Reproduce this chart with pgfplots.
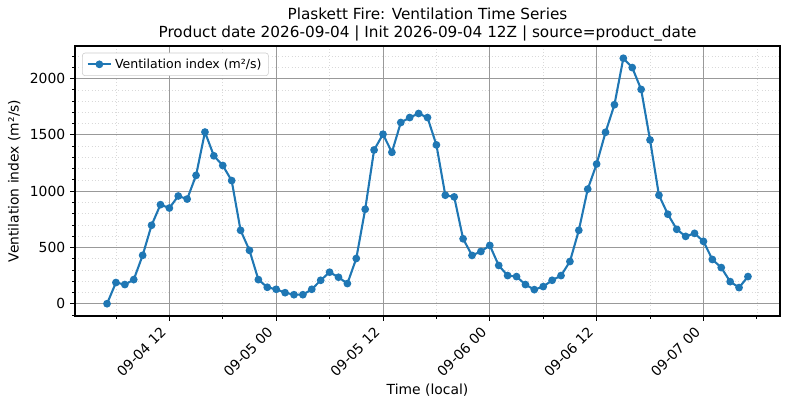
\documentclass[border=0pt]{standalone}
\usepackage{pgfplots}
\pgfplotsset{compat=1.18}
\usepackage{pgfplotstable}
\usepackage{fontspec}
\setmainfont{DejaVu Sans}

\definecolor{tabblue}{HTML}{1F77B4}

% hours since 2026-09-04 00:00 local, ventilation index (m2/s)
\pgfplotstableread{
h   vi
5   0
6   188
7   170
8   214
9   430
10  697
11  880
12  850
13  957
14  930
15  1140
16  1525
17  1314
18  1228
19  1094
20  652
21  474
22  214
23  146
24  128
25  98
26  80
27  80
28  128
29  208
30  280
31  235
32  179
33  402
34  839
35  1366
36  1506
37  1345
38  1610
39  1654
40  1690
41  1654
42  1411
43  964
44  949
45  577
46  429
47  464
48  518
49  340
50  250
51  241
52  170
53  125
54  152
55  208
56  250
57  375
58  652
59  1018
60  1241
61  1523
62  1768
63  2181
64  2098
65  1904
66  1455
67  964
68  795
69  661
70  598
71  625
72  554
73  393
74  321
75  196
76  143
77  241
}\vitable

\begin{document}
\begin{tikzpicture}
  \begin{axis}[
      scale only axis,
      width=507.6pt, height=194.4pt,
      xmin=1.4, xmax=80.6,
      ymin=-109, ymax=2290,
      xtick={12,24,36,48,60,72},
      xticklabels={09-04 12,09-05 00,09-05 12,09-06 00,09-06 12,09-07 00},
      minor xtick={6,18,30,42,54,66,78},
      ytick={0,500,1000,1500,2000},
      minor ytick={-100,100,200,300,400,600,700,800,900,1100,1200,1300,1400,1600,1700,1800,1900,2100,2200},
      tick align=outside,
      tick pos=left,
      major tick length=3.5pt,
      minor tick length=2pt,
      every tick/.style={black, line width=0.6pt},
      axis line style={line width=0.8pt},
      grid=both,
      major grid style={draw=black!40, line width=0.6pt},
      minor grid style={draw=black!15, dotted, line width=0.5pt},
      /pgf/number format/assume math mode=true,
      /pgf/number format/1000 sep={},
      tick label style={font=\fontsize{10}{12}\selectfont},
      xticklabel style={xshift=-7pt, yshift=-2pt, rotate=45, anchor=north east, inner sep=1pt},
      xlabel={Time (local)},
      ylabel={Ventilation index (m²/s)},
      label style={font=\fontsize{10}{12}\selectfont},
      title={Plaskett Fire: Ventilation Time Series\\Product date 2026-09-04 | Init 2026-09-04 12Z | source=product\_date},
      title style={align=center, font=\fontsize{11}{13}\selectfont, yshift=-6pt},
      legend style={
          at={(0.01,0.975)}, anchor=north west,
          draw=black!20, rounded corners=2pt,
          font=\fontsize{9}{11}\selectfont,
          inner xsep=3pt, inner ysep=2pt
      },
      legend cell align=left,
    ]
    \addplot [color=tabblue, line width=1.5pt, mark=*, mark size=2pt,
              mark options={solid, fill=tabblue, draw=tabblue}]
      table [x=h, y=vi] {\vitable};
    \legend{Ventilation index (m²/s)}
  \end{axis}
  % page margins as in the reference figure
  \pgfresetboundingbox
  \path ([shift={(-54pt,-67pt)}]current axis.south west)
        rectangle ([shift={(7.2pt,33.1pt)}]current axis.north east);
\end{tikzpicture}
\end{document}
